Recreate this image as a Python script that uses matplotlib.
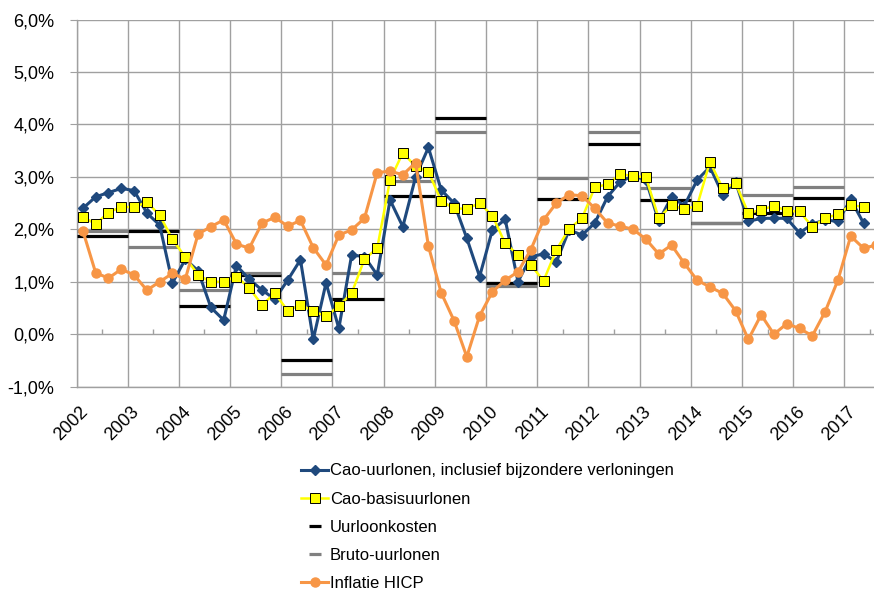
import numpy as np
import matplotlib
matplotlib.use("Agg")
import matplotlib.pyplot as plt
from matplotlib.lines import Line2D
from matplotlib.ticker import FuncFormatter

plt.rcParams['font.family'] = ['Liberation Sans', 'DejaVu Sans']

# quarterly series, starting 2002 Q1 (percent, year-on-year)
start_year = 2002
cao_incl = [2.40, 2.62, 2.70, 2.78,
            2.74, 2.31, 2.08, 0.98,
            1.43, 1.21, 0.51, 0.27,
            1.31, 1.05, 0.84, 0.67,
            1.03, 1.42, -0.10, 0.98,
            0.11, 1.51, 1.48, 1.13,
            2.56, 2.05, 3.00, 3.56,
            2.75, 2.50, 1.83, 1.10,
            1.99, 2.19, 1.00, 1.48,
            1.53, 1.38, 1.99, 1.89,
            2.12, 2.62, 2.91, 3.02,
            2.94, 2.15, 2.62, 2.45,
            2.94, 3.19, 2.66, 2.91,
            2.15, 2.21, 2.21, 2.21,
            1.93, 2.10, 2.18, 2.15,
            2.57, 2.12]
cao_basis = [2.24, 2.10, 2.32, 2.43,
             2.42, 2.52, 2.27, 1.81,
             1.47, 1.13, 1.00, 1.00,
             1.10, 0.88, 0.56, 0.78,
             0.45, 0.56, 0.44, 0.34,
             0.54, 0.78, 1.43, 1.64,
             2.94, 3.46, 3.20, 3.10,
             2.54, 2.40, 2.39, 2.50,
             2.26, 1.73, 1.52, 1.32,
             1.02, 1.61, 2.01, 2.21,
             2.80, 2.86, 3.05, 3.02,
             2.99, 2.21, 2.46, 2.38,
             2.45, 3.29, 2.78, 2.88,
             2.31, 2.37, 2.45, 2.35,
             2.34, 2.05, 2.21, 2.29,
             2.46, 2.43]
hicp = [1.97, 1.17, 1.07, 1.24,
        1.13, 0.84, 1.00, 1.16,
        1.05, 1.91, 2.05, 2.18,
        1.72, 1.64, 2.12, 2.23,
        2.06, 2.17, 1.65, 1.32,
        1.89, 1.99, 2.21, 3.08,
        3.11, 3.04, 3.27, 1.68,
        0.79, 0.26, -0.43, 0.35,
        0.81, 1.03, 1.19, 1.61,
        2.18, 2.50, 2.66, 2.64,
        2.40, 2.12, 2.06, 2.00,
        1.81, 1.53, 1.70, 1.35,
        1.03, 0.90, 0.78, 0.45,
        -0.10, 0.37, 0.00, 0.20,
        0.11, -0.03, 0.43, 1.03,
        1.87, 1.64, 1.70]

# yearly figures
seg_years = list(range(2002, 2017))
uurloonkosten = [1.87, 1.97, 0.53, 1.12, -0.49, 0.67, 2.64, 4.13,
                 0.97, 2.57, 3.63, 2.56, 2.12, 2.31, 2.59]
bruto_uurlonen = [1.97, 1.66, 0.84, 1.16, -0.76, 1.16, 2.92, 3.85,
                  0.92, 2.97, 3.85, 2.78, 2.13, 2.66, 2.80]

year_ticks = list(range(2002, 2018))
labels = ['Cao-uurlonen, inclusief bijzondere verloningen', 'Cao-basisuurlonen',
          'Uurloonkosten', 'Bruto-uurlonen', 'Inflatie HICP']

blue = '#1F497D'
yellow = '#FFFF00'
orange = '#F79646'
grey = '#808080'
grid_c = '#A0A0A0'


def qx(series):
    return start_year + 0.125 + np.arange(len(series)) / 4


fig = plt.figure(figsize=(8.74, 5.90), dpi=100)
ax = fig.add_axes([76.5 / 874, 1 - 386.7 / 590, 1 - 76.5 / 874, (386.7 - 19.5) / 590])

ax.hlines(uurloonkosten, seg_years, np.array(seg_years) + 1, color='black', lw=2.3, zorder=3)
ax.hlines(bruto_uurlonen, seg_years, np.array(seg_years) + 1, color=grey, lw=2.3, zorder=3)
ax.plot(qx(cao_incl), cao_incl, color=blue, lw=2.2, marker='D', ms=5.5, zorder=4)
ax.plot(qx(cao_basis), cao_basis, color=yellow, lw=1.8, marker='s', ms=6.5,
        mfc=yellow, mec='black', mew=0.7, zorder=5)
ax.plot(qx(hicp), hicp, color=orange, lw=2.2, marker='o', ms=6.5, zorder=6)

ax.set_xlim(2002, 2017.58)
ax.set_ylim(-1, 6)
ax.set_yticks(np.arange(-1, 7, 1))
ax.yaxis.set_major_formatter(FuncFormatter(lambda v, p: f'{v:.1f}%'.replace('.', ',')))
# gridlines on the year boundaries, labels slightly to the right of them
ax.set_xticks(year_ticks, labels=[])
ax.set_xticks([y + 0.06 for y in year_ticks], labels=[str(y) for y in year_ticks], minor=True)
for lab in ax.get_xticklabels(minor=True):
    lab.set_rotation(45)
    lab.set_ha('right')
    lab.set_rotation_mode('anchor')

ax.grid(True, which='major', color=grid_c, lw=1.0, zorder=0)
ax.set_axisbelow(True)
for s in ['top', 'right']:
    ax.spines[s].set_visible(False)
for s in ['left', 'bottom']:
    ax.spines[s].set_color(grid_c)
    ax.spines[s].set_linewidth(1.0)
ax.tick_params(axis='y', length=5, color=grid_c, labelsize=13, pad=11)
ax.tick_params(axis='x', which='both', length=0, labelsize=13)
ax.tick_params(axis='x', which='minor', pad=12)
# small ticks on the 0% line, halfway through each year
ax.vlines(np.arange(2002.5, 2018, 1), 0, 0.1, color=grid_c, lw=1.0, zorder=1)

handles = [
    Line2D([], [], color=blue, lw=2.2, marker='D', ms=5.5),
    Line2D([], [], color=yellow, lw=1.8, marker='s', ms=6.5, mfc=yellow, mec='black', mew=0.7),
    Line2D([], [], color='black', marker='_', ms=8, mew=2.3, ls='none'),
    Line2D([], [], color=grey, marker='_', ms=8, mew=2.3, ls='none'),
    Line2D([], [], color=orange, lw=2.2, marker='o', ms=6.5),
]
fig.legend(handles, labels, loc='upper left', bbox_to_anchor=(301 / 874, 1 - 463.5 / 590),
           frameon=False, fontsize=12, handlelength=1.62, handletextpad=0.1,
           labelspacing=0.79, borderpad=0, borderaxespad=0)

fig.savefig('out.png', dpi=100)
